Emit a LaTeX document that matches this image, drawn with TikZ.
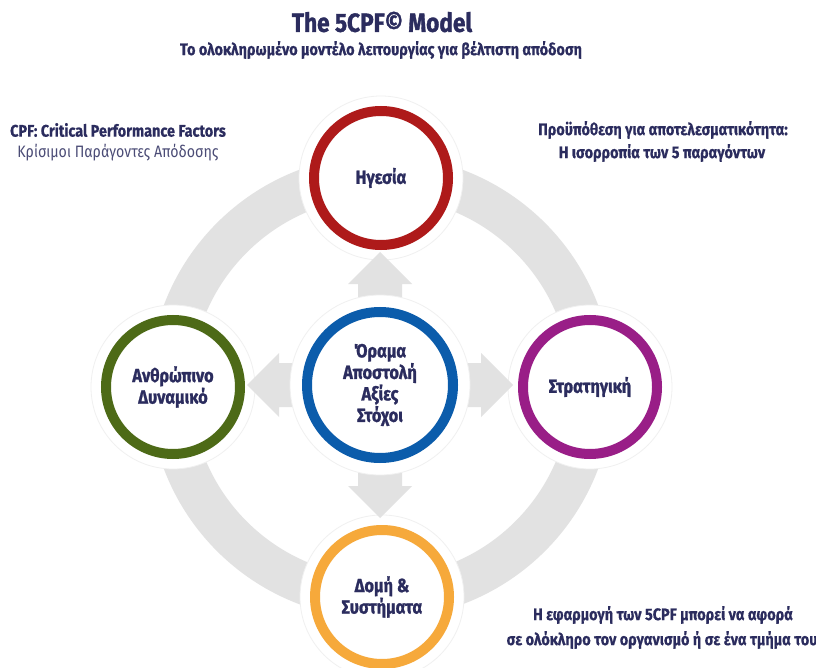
\documentclass[tikz,border=0pt]{standalone}
\usepackage{fontspec}
\setmainfont{Fira Sans}[FakeStretch=0.86, BoldFeatures={FakeBold=0.6}]
\newfontfamily\heavyfont{Fira Sans}[FakeStretch=0.86, BoldFeatures={FakeBold=1.2}]
\usetikzlibrary{calc}
\definecolor{navy}{HTML}{2B2C5E}
\definecolor{ringgray}{HTML}{E2E2E2}
\definecolor{leadred}{HTML}{AE1A1A}
\definecolor{peoplegreen}{HTML}{4D6A17}
\definecolor{visionblue}{HTML}{0B5CAB}
\definecolor{stratpurple}{HTML}{991E87}
\definecolor{structorange}{HTML}{F6A93B}
\begin{document}
\begin{tikzpicture}[x=1pt,y=-1pt,
  factor/.style={circle, minimum size=134pt, line width=10pt, fill=white,
    text=navy, align=center, inner sep=0pt,
    font=\heavyfont\bfseries\fontsize{19}{21.5}\selectfont},
  halo/.style={circle, fill=white, draw=black!6, line width=0.8pt,
    minimum size=164pt, inner sep=0pt},
  caption/.style={text=navy, inner sep=0pt, font=\bfseries\fontsize{16.8}{20}\selectfont},
  blockarrow/.style={fill=ringgray}
]
\useasboundingbox[fill=white] (0,0) rectangle (816,668);

% centres of the five factor circles
\coordinate (cL) at (381,178);
\coordinate (cP) at (173,387);
\coordinate (cV) at (380,385);
\coordinate (cS) at (590,387);
\coordinate (cO) at (382,597);
\coordinate (cR) at (381,387);

% grey cycle ring behind the outer factors
\fill[ringgray, even odd rule] (cR) circle[radius=232pt] (cR) circle[radius=190pt];

% white halos around the outer factors
\foreach \c in {cL,cP,cS,cO}
  \node[halo] at (\c) {};

% block arrows from the centre towards each factor
\foreach \ang in {0,90,180,270}{
  \begin{scope}[shift={(cV)}, rotate=\ang]
    \fill[blockarrow] (60,-22) -- (101,-22) -- (101,-32) -- (133,0)
      -- (101,32) -- (101,22) -- (60,22) -- cycle;
  \end{scope}
}

% halo of the central circle
\node[halo, minimum size=180pt] at (cV) {};

% the five factors
\node[factor, draw=leadred] (lead) at (cL) {Ηγεσία};
\node[factor, draw=peoplegreen] (people) at (cP) {Ανθρώπινο\\Δυναμικό};
\node[factor, draw=visionblue, minimum size=146pt] (vision) at (cV) {Όραμα\\Αποστολή\\Αξίες\\Στόχοι};
\node[factor, draw=stratpurple] (strategy) at (cS) {Στρατηγική};
\node[factor, draw=structorange] (structure) at (cO) {Δομή \&\\Συστήματα};

% titles
\node[caption, font=\heavyfont\bfseries\fontsize{26.3}{30}\selectfont] (title) at (382,22) {The 5CPF© Model};
\node[caption] (subtitle) at (381,50) {Το ολοκληρωμένο μοντέλο λειτουργίας για βέλτιστη απόδοση};

% side notes
\node[caption] (cpf) at (118,130) {CPF: Critical Performance Factors};
\node[caption, font=\fontsize{16.5}{20}\selectfont, text=navy!85] (cpfgr) at (118,153) {Κρίσιμοι Παράγοντες Απόδοσης};
\node[caption] (cond1) at (663,130) {Προϋπόθεση για αποτελεσματικότητα:};
\node[caption] (cond2) at (662,153) {Η ισορροπία των 5 παραγόντων};
\node[caption] (apply1) at (663,615) {Η εφαρμογή των 5CPF μπορεί να αφορά};
\node[caption] (apply2) at (662,640) {σε ολόκληρο τον οργανισμό ή σε ένα τμήμα του};
\end{tikzpicture}
\end{document}
